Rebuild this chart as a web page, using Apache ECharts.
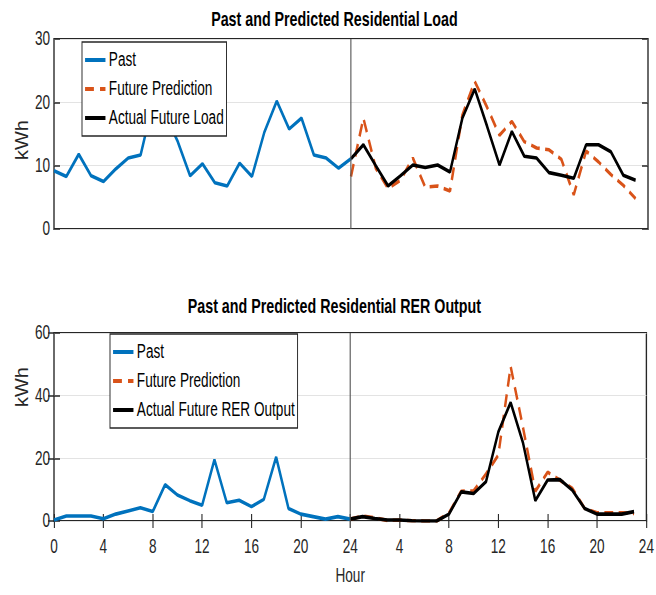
<!DOCTYPE html>
<html>
<head>
<meta charset="utf-8">
<script src="https://cdn.jsdelivr.net/npm/echarts@6/dist/echarts.min.js"></script>
<style>
  html, body { margin: 0; padding: 0; background: #fff; overflow: hidden; }
  #wrap { width: 656px; height: 595px; overflow: hidden; position: relative; }
  #chart { height: 595px; transform-origin: 0 0; }
</style>
</head>
<body>
<div id="wrap"><div id="chart"></div></div>
<script>
// Hour positions (second day continues 24..47 on the same axis)
const pastHours   = [0,1,2,3,4,5,6,7,8,9,10,11,12,13,14,15,16,17,18,19,20,21,22,23,24];
const futureHours = [24,25,26,27,28,29,30,31,32,33,34,35,36,37,38,39,40,41,42,43,44,45,46,47];

// Residential load, kWh
const loadPast   = [9.2,8.3,11.8,8.4,7.5,9.5,11.2,11.7,20.0,18.0,13.8,8.4,10.3,7.3,6.8,10.4,8.3,15.3,20.2,15.8,17.5,11.7,11.2,9.6,11.1];
const loadPred   = [8.3,17.5,9.6,6.4,7.7,11.2,6.6,6.8,6.0,18.0,23.3,19.2,14.8,17.0,13.8,12.8,12.5,11.0,5.4,12.3,10.6,8.6,6.9,4.8];
const loadActual = [11.1,13.3,10.0,6.8,8.4,10.1,9.7,10.1,9.0,17.5,22.1,16.2,10.1,15.4,11.5,11.2,8.9,8.5,8.0,13.3,13.3,12.2,8.5,7.7];

// Residential RER output, kWh
const rerPast   = [0.3,1.6,1.6,1.6,0.7,2.2,3.2,4.2,3.0,11.6,8.3,6.5,5.0,19.6,5.8,6.6,4.6,6.9,20.4,4.0,2.2,1.4,0.6,1.4,0.6];
const rerPred   = [0.6,1.6,1.0,0.2,0.3,0.1,0,0,2.5,9.5,9.6,15.0,21.0,49.3,29.9,9.5,15.6,13.0,10.4,4.0,2.6,2.6,2.6,2.4];
const rerActual = [0.6,1.4,0.8,0.3,0.3,0.1,0,0,2.2,9.3,8.8,12.5,28.4,37.8,25.0,6.5,13.1,13.2,9.8,4.0,2.2,2.2,2.2,3.0];

// Axis settings
const xMax = 48, xStep = 4;
const loadMax = 30, loadStep = 10;
const rerMax = 60, rerStep = 20;
const splitHour = 24;

// The figure is drawn on a wider canvas and narrowed horizontally,
// giving the condensed lettering of the original export.
const SX = 0.68;
const VW = 656 / SX;
const px = v => v / SX;

const el = document.getElementById('chart');
el.style.width = VW + 'px';
el.style.transform = 'scaleX(' + SX + ')';

const FONT = '"Liberation Sans", Arial, sans-serif';
const AX = '#262626';
const BLUE = '#0072BD', ORANGE = '#D95319', BLACK = '#000000';

// Legend keys: a solid bar, and a long dash followed by a short one
const KEY_SOLID = 'path://M0,0H30V4H0Z';
const KEY_DASH  = 'path://M0,0H13V4H0Z M22,0H30V4H22Z';

const pairs = (xs, ys) => ys.map((y, i) => [xs[i], y]);

const gridLeft = px(54), gridWidth = px(594);

function xAxisBottom(gridIndex, showLabels) {
  return {
    type: 'value', gridIndex, position: 'bottom', min: 0, max: xMax, interval: xStep,
    axisLine: { show: false },
    axisTick: { show: showLabels, inside: true, length: 7, lineStyle: { color: AX, width: 1.6 } },
    axisLabel: {
      show: showLabels, margin: 16, color: AX, fontSize: 20, fontFamily: FONT,
      formatter: v => String(v > splitHour ? v - splitHour : v)
    },
    splitLine: { show: false },
    name: showLabels ? 'Hour' : '', nameLocation: 'middle', nameGap: 45,
    nameTextStyle: { color: AX, fontSize: 20, fontFamily: FONT }
  };
}
function xAxisTop(gridIndex) {
  return {
    type: 'value', gridIndex, position: 'top', min: 0, max: xMax, interval: xStep,
    axisLine: { show: false },
    axisTick: { show: true, inside: true, length: 7, lineStyle: { color: AX, width: 1.6 } },
    axisLabel: { show: false }, splitLine: { show: false }
  };
}
function yAxis(gridIndex, pos, max, step) {
  const left = pos === 'left';
  return {
    type: 'value', gridIndex, position: pos, min: 0, max, interval: step,
    axisLine: { show: false },
    axisTick: { show: true, inside: true, length: px(6), lineStyle: { color: AX, width: 1.5 } },
    axisLabel: { show: left, margin: px(4), color: AX, fontSize: 20, fontFamily: FONT },
    splitLine: { show: left, lineStyle: { color: '#e3e3e3', width: 1.2 } }
  };
}
function divider() {
  return {
    symbol: 'none', silent: true, label: { show: false },
    lineStyle: { color: '#505050', width: 1.6, type: 'solid' },
    data: [{ xAxis: splitHour }]
  };
}
function lineSeries(name, xi, yi, data, color, dashed, z) {
  return {
    type: 'line', name, xAxisIndex: xi, yAxisIndex: yi, data, z,
    symbol: 'none', showSymbol: false, animation: false,
    lineStyle: { color, width: 3.6, type: dashed ? [13, 8] : 'solid' },
    itemStyle: { color }
  };
}
function legend(left, top, names) {
  return {
    orient: 'vertical', left, top,
    data: [
      { name: names[0], icon: KEY_SOLID },
      { name: names[1], icon: KEY_DASH },
      { name: names[2], icon: KEY_SOLID }
    ],
    backgroundColor: '#fff', borderColor: AX, borderWidth: 1.4, borderRadius: 0,
    padding: [8, 4, 8, 4.5], itemWidth: 30, itemHeight: 4, itemGap: 9,
    textStyle: { color: '#000', fontSize: 20, fontFamily: FONT },
    selectedMode: false
  };
}
function yName(y) {
  return {
    type: 'text', x: px(21.5), y, rotation: Math.PI / 2, scaleY: 0.92 / SX,
    style: { text: 'kWh', fill: AX, font: '20px ' + FONT, textAlign: 'center', textVerticalAlign: 'middle' }
  };
}

const chart = echarts.init(el, null, { renderer: 'svg', width: VW, height: 595 });

const pastLoad = lineSeries('Past', 0, 0, pairs(pastHours, loadPast), BLUE, false, 2);
pastLoad.markLine = divider();
const pastRer = lineSeries('Past', 1, 2, pairs(pastHours, rerPast), BLUE, false, 2);
pastRer.markLine = divider();

chart.setOption({
  animation: false,
  backgroundColor: '#fff',
  title: [
    { text: 'Past and Predicted Residential Load', left: px(331), textAlign: 'center', top: 3,
      textStyle: { color: '#000', fontSize: 21, fontWeight: 'bold', fontFamily: FONT } },
    { text: 'Past and Predicted Residential RER Output', left: px(331), textAlign: 'center', top: 290,
      textStyle: { color: '#000', fontSize: 21, fontWeight: 'bold', fontFamily: FONT } }
  ],
  grid: [
    { left: gridLeft, top: 39, width: gridWidth, height: 190, show: true,
      borderColor: AX, borderWidth: 2, backgroundColor: '#fff' },
    { left: gridLeft, top: 333, width: gridWidth, height: 188, show: true,
      borderColor: AX, borderWidth: 2, backgroundColor: '#fff' }
  ],
  xAxis: [xAxisBottom(0, false), xAxisBottom(1, true), xAxisTop(1)],
  yAxis: [yAxis(0, 'left', loadMax, loadStep), yAxis(0, 'right', loadMax, loadStep),
          yAxis(1, 'left', rerMax, rerStep), yAxis(1, 'right', rerMax, rerStep)],
  legend: [
    legend(px(82), 42, ['Past', 'Future Prediction', 'Actual Future Load']),
    legend(px(110), 334, ['Past', 'Future Prediction', 'Actual Future RER Output'])
  ],
  graphic: [yName(140), yName(387)],
  series: [
    pastLoad,
    lineSeries('Future Prediction', 0, 0, pairs(futureHours, loadPred), ORANGE, true, 3),
    lineSeries('Actual Future Load', 0, 0, pairs(futureHours, loadActual), BLACK, false, 4),
    pastRer,
    lineSeries('Future Prediction', 1, 2, pairs(futureHours, rerPred), ORANGE, true, 3),
    lineSeries('Actual Future RER Output', 1, 2, pairs(futureHours, rerActual), BLACK, false, 4)
  ]
});
</script>
</body>
</html>
